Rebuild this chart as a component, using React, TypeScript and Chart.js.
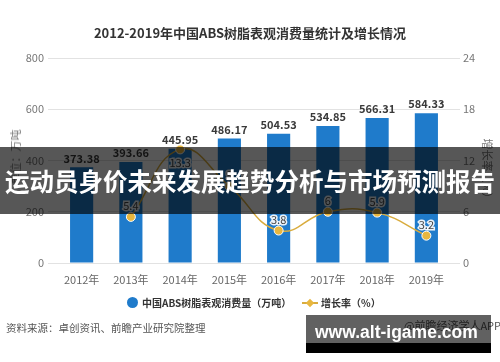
import React, { useEffect, useRef } from "react";
import { Chart, registerables } from "chart.js";

Chart.register(...registerables);

const categories = ["2012年", "2013年", "2014年", "2015年", "2016年", "2017年", "2018年", "2019年"];
const consumption = [373.38, 393.66, 445.95, 486.17, 504.53, 534.85, 566.31, 584.33];
const consumptionLabels = ["373.38", "393.66", "445.95", "486.17", "504.53", "534.85", "566.31", "584.33"];
const growth = [null, 5.4, 13.3, 9.0, 3.8, 6, 5.9, 3.2];
const growthLabels = ["", "5.4", "13.3", "9", "3.8", "6", "5.9", "3.2"];
const leftMax = 800;
const leftStep = 200;
const rightMax = 24;
const rightStep = 6;

const FONT = '"Noto Sans CJK SC", "DejaVu Sans", sans-serif';
const BLUE = "#1f7bcb";
const GOLD = "#d9ac3e";

const labelPlugin = {
  id: "valueLabels",
  afterDatasetsDraw(chart: any) {
    const ctx = chart.ctx;
    ctx.save();
    const barMeta = chart.getDatasetMeta(0);
    ctx.font = "bold 11px " + FONT;
    ctx.fillStyle = "#3a3a3a";
    ctx.textAlign = "center";
    ctx.textBaseline = "middle";
    barMeta.data.forEach((bar: any, i: number) => {
      ctx.fillText(consumptionLabels[i], bar.x, bar.y - 9);
    });
    const lineMeta = chart.getDatasetMeta(1);
    ctx.font = "11px " + FONT;
    ctx.lineWidth = 3;
    ctx.strokeStyle = "rgba(255,255,255,0.9)";
    lineMeta.data.forEach((pt: any, i: number) => {
      if (growth[i] == null) return;
      // the peak label sits below its point
      const dy = i === 2 ? 13 : -11;
      ctx.strokeText(growthLabels[i], pt.x, pt.y + dy);
      ctx.fillStyle = "#444";
      ctx.fillText(growthLabels[i], pt.x, pt.y + dy);
    });
    ctx.restore();
  },
};

export default function App() {
  const ref = useRef<HTMLCanvasElement>(null);
  useEffect(() => {
    document.body.style.margin = "0";
    const chart = new Chart(ref.current as HTMLCanvasElement, {
      type: "bar",
      data: {
        labels: categories,
        datasets: [
          {
            type: "bar",
            label: "中国ABS树脂表观消费量（万吨）",
            data: consumption,
            backgroundColor: BLUE,
            barPercentage: 0.47,
            categoryPercentage: 1,
            yAxisID: "y",
            order: 1,
          },
          {
            type: "line",
            label: "增长率（%）",
            data: growth as any,
            borderColor: GOLD,
            borderWidth: 1.5,
            backgroundColor: "#e8b73f",
            pointBackgroundColor: "#e8b73f",
            pointBorderColor: "#ffffff",
            pointBorderWidth: 1,
            pointRadius: 4.5,
            tension: 0.45,
            cubicInterpolationMode: "default",
            yAxisID: "y1",
            order: 0,
          },
        ],
      },
      options: {
        responsive: false,
        animation: false,
        devicePixelRatio: 1,
        layout: { padding: { top: 58, bottom: 68, left: 0, right: 0 } },
        plugins: {
          legend: { display: false },
          title: { display: false },
          tooltip: { enabled: false },
        },
        scales: {
          x: {
            grid: { display: false },
            border: { display: false },
            ticks: { color: "#666", font: { family: FONT, size: 11 }, padding: 2 },
            afterFit: (s: any) => {
              s.height = 31;
            },
          },
          y: {
            position: "left",
            min: 0,
            max: leftMax,
            ticks: { stepSize: leftStep, color: "#777", font: { family: FONT, size: 11 }, padding: 4 },
            grid: { color: "#e2e2e2", tickLength: 9, lineWidth: 1 },
            border: { display: false },
            afterFit: (s: any) => {
              s.width = 57;
            },
          },
          y1: {
            position: "right",
            min: 0,
            max: rightMax,
            ticks: { stepSize: rightStep, color: "#777", font: { family: FONT, size: 11 }, padding: 3 },
            grid: { drawOnChartArea: false, color: "#e2e2e2", tickLength: 9 },
            border: { display: false },
            afterFit: (s: any) => {
              s.width = 49;
            },
          },
        },
      },
      plugins: [labelPlugin],
    } as any);
    return () => chart.destroy();
  }, []);

  const txt: React.CSSProperties = { position: "absolute", fontFamily: FONT, whiteSpace: "nowrap" };

  return (
    <div style={{ position: "relative", width: 500, height: 362, background: "#fff", overflow: "hidden" }}>
      <canvas ref={ref} width={500} height={362} style={{ position: "absolute", left: 0, top: 0 }} />
      <div style={{ ...txt, left: 0, width: 500, top: 23, textAlign: "center", fontSize: 13, fontWeight: 700, color: "#333" }}>
        2012-2019年中国ABS树脂表观消费量统计及增长情况
      </div>
      <div
        style={{
          ...txt,
          left: 15,
          top: 157,
          fontSize: 11,
          color: "#777",
          transform: "translate(-50%, -50%) rotate(-90deg)",
        }}
      >
        单位：万吨
      </div>
      <div
        style={{
          ...txt,
          left: 488,
          top: 171,
          fontSize: 11,
          color: "#777",
          transform: "translate(-50%, -50%) rotate(90deg)",
        }}
      >
        增长率（%）
      </div>
      {/* legend */}
      <div style={{ ...txt, left: 127, top: 297, width: 11, height: 11, borderRadius: "50%", background: BLUE }} />
      <div style={{ ...txt, left: 142, top: 295, fontSize: 10, fontWeight: 700, color: "#333" }}>
        中国ABS树脂表观消费量（万吨）
      </div>
      <div style={{ ...txt, left: 302, top: 302, width: 16, height: 2, background: GOLD }} />
      <div
        style={{
          ...txt,
          left: 307,
          top: 300,
          width: 6,
          height: 6,
          background: "#e8b73f",
          transform: "rotate(45deg)",
        }}
      />
      <div style={{ ...txt, left: 321, top: 295, fontSize: 10, fontWeight: 700, color: "#333" }}>增长率（%）</div>
      {/* source */}
      <div style={{ ...txt, left: 6, top: 320, fontSize: 10.5, color: "#555" }}>资料来源：卓创资讯、前瞻产业研究院整理</div>
      <div style={{ ...txt, left: 404, top: 317, fontSize: 11, color: "#555" }}>@前瞻经济学人APP</div>
      {/* banner overlay */}
      <div
        style={{
          ...txt,
          left: 0,
          top: 147,
          width: 500,
          height: 67,
          background: "rgba(0,0,0,0.66)",
        }}
      />
      <div
        style={{
          ...txt,
          left: 0,
          top: 147,
          width: 500,
          height: 67,
          lineHeight: "67px",
          textAlign: "center",
          fontSize: 24.5,
          fontWeight: 700,
          color: "#fff",
        }}
      >
        运动员身价未来发展趋势分析与市场预测报告
      </div>
      {/* url box */}
      <div style={{ ...txt, left: 306, top: 315, width: 185, height: 28, background: "rgba(0,0,0,0.62)" }} />
      <div style={{ ...txt, left: 306, top: 343, width: 185, height: 10, background: "#000" }} />
      <div
        style={{
          ...txt,
          left: 315,
          top: 322,
          fontSize: 17.5,
          lineHeight: "20px",
          fontWeight: 700,
          color: "#fff",
          fontFamily: '"Liberation Sans", sans-serif',
        }}
      >
        www.alt-igame.com
      </div>
    </div>
  );
}
